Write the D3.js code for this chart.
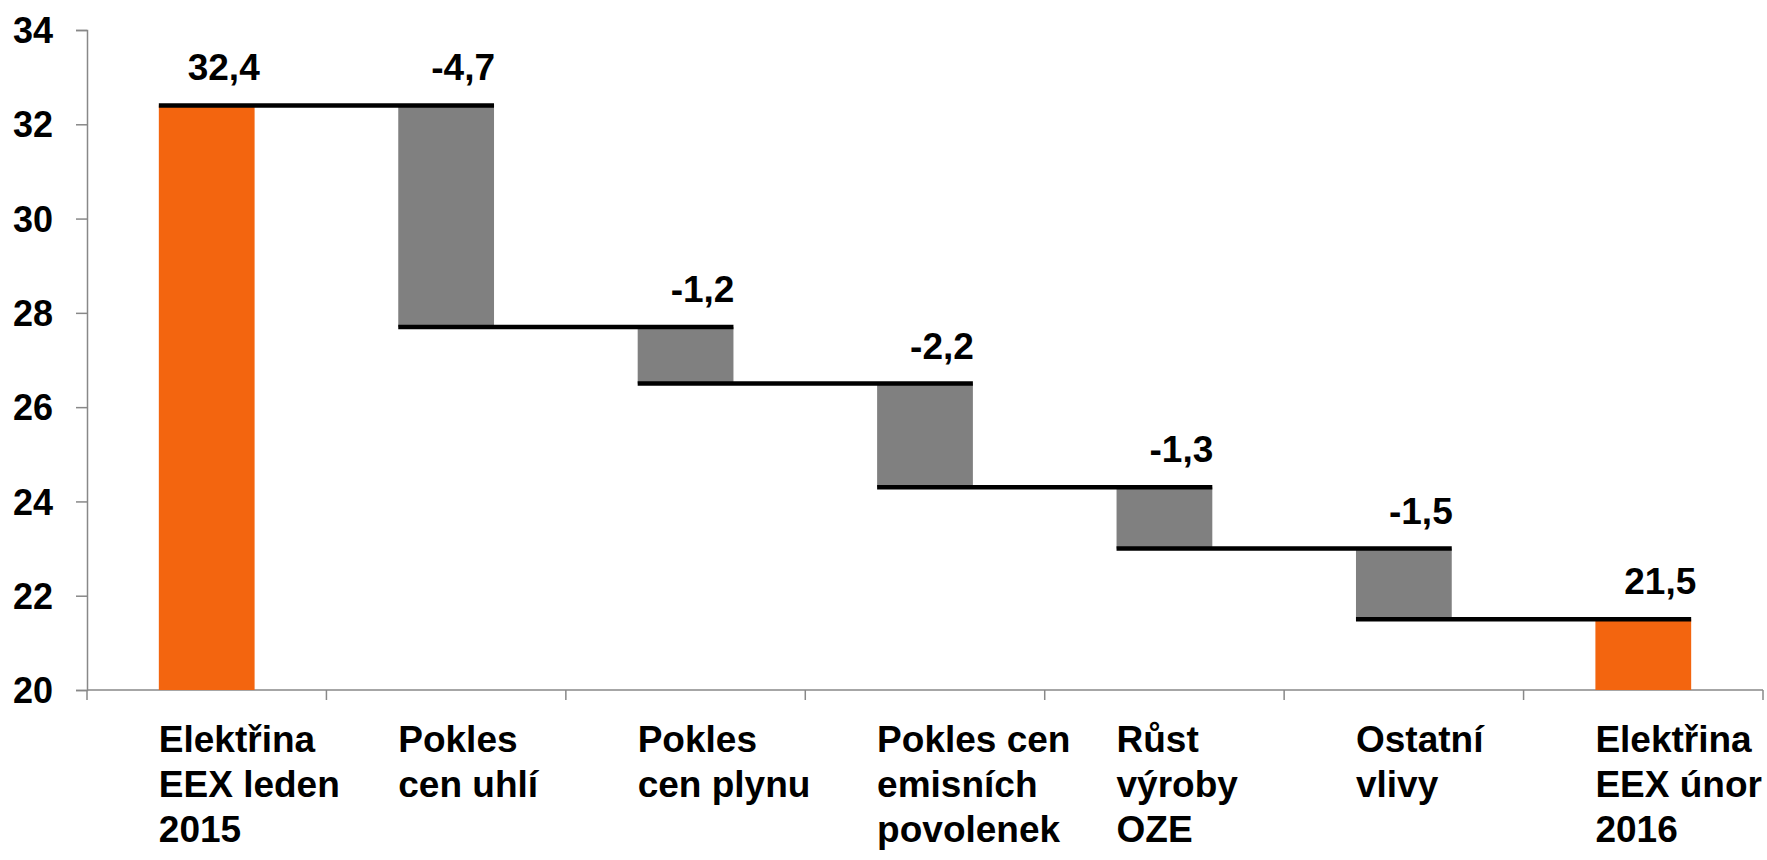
<!DOCTYPE html>
<html>
<head>
<meta charset="utf-8">
<script src="https://cdn.jsdelivr.net/npm/d3@7"></script>
<style>
  html, body { margin: 0; padding: 0; background: #ffffff; }
  svg { display: block; }
  text { font-family: "Liberation Sans", Arial, sans-serif; font-weight: bold; fill: #000; }
</style>
</head>
<body>
<svg id="chart" width="1767" height="860"></svg>
<script>
// ---- data ----
const categories = [
  "Elektřina\nEEX leden\n2015",
  "Pokles\ncen uhlí",
  "Pokles\ncen plynu",
  "Pokles cen\nemisních\npovolenek",
  "Růst\nvýroby\nOZE",
  "Ostatní\nvlivy",
  "Elektřina\nEEX únor\n2016"
];
const values = [32.4, -4.7, -1.2, -2.2, -1.3, -1.5, 21.5];
const isTotal = [true, false, false, false, false, false, true];
const yTicks = [20, 22, 24, 26, 28, 30, 32, 34];
const yDomain = [20, 34];

// ---- layout ----
const W = 1767, H = 860;
const margin = { left: 87, right: 4, top: 30, bottom: 170 };
const x0 = margin.left, x1 = W - margin.right;
const svg = d3.select("#chart");

const x = d3.scaleBand()
  .domain(d3.range(categories.length))
  .range([x0, x1])
  .paddingInner(0.6)
  .paddingOuter(0.3);
const y = d3.scaleLinear().domain(yDomain).range([690, 30]);

const locale = d3.formatLocale({ decimal: ",", thousands: " ", grouping: [3], currency: ["", ""], minus: "-" });
const fmt = locale.format(".1f");

// running totals
let run = 0;
const bars = values.map((v, i) => {
  let lo, hi, top, end;
  if (isTotal[i]) {
    lo = yDomain[0]; hi = v; top = v; end = v; run = v;
  } else {
    const s = run; const e = run + v;
    lo = Math.min(s, e); hi = Math.max(s, e); top = s; end = e; run = e;
  }
  return { i, v, lo, hi, top, end, total: isTotal[i] };
});

const axisColor = "#888888";

// y axis
const yAxis = d3.axisLeft(y).tickValues(yTicks).tickSize(11).tickFormat(d3.format("d"));
const gy = svg.append("g").attr("transform", `translate(${x0},0)`).call(yAxis);
gy.select(".domain").attr("stroke", axisColor).attr("stroke-width", 1.5);
gy.selectAll(".tick line").attr("stroke", axisColor).attr("stroke-width", 1.5);
gy.selectAll(".tick text")
  .attr("x", -34)
  .attr("dy", "0.35em")
  .style("font-size", "36px")
  .style("font-family", "'Liberation Sans', Arial, sans-serif")
  .style("font-weight", "bold")
  .attr("fill", "#000");

// x axis: line + ticks at band boundaries
const step = x.step();
const boundaries = d3.range(categories.length + 1).map(k => x0 + k * (x1 - x0) / categories.length);
svg.append("line")
  .attr("x1", x0).attr("x2", x1)
  .attr("y1", y(yDomain[0])).attr("y2", y(yDomain[0]))
  .attr("stroke", axisColor).attr("stroke-width", 1.5);
svg.selectAll(".xtick").data(boundaries).enter().append("line")
  .attr("class", "xtick")
  .attr("x1", d => d).attr("x2", d => d)
  .attr("y1", y(yDomain[0])).attr("y2", y(yDomain[0]) + 10)
  .attr("stroke", axisColor).attr("stroke-width", 1.5);

// bars
svg.selectAll(".bar").data(bars).enter().append("rect")
  .attr("class", "bar")
  .attr("x", d => x(d.i))
  .attr("width", x.bandwidth())
  .attr("y", d => y(d.hi))
  .attr("height", d => y(d.lo) - y(d.hi))
  .attr("fill", d => d.total ? "#F3650F" : "#808080");

// connector lines: at end level of bar i, from left of bar i to right of bar i+1
const connectors = bars.slice(0, -1).map(d => ({ i: d.i, level: d.end }));
svg.selectAll(".conn").data(connectors).enter().append("line")
  .attr("class", "conn")
  .attr("x1", d => x(d.i))
  .attr("x2", d => x(d.i + 1) + x.bandwidth())
  .attr("y1", d => y(d.level))
  .attr("y2", d => y(d.level))
  .attr("stroke", "#000")
  .attr("stroke-width", 4.5);

// value labels
svg.selectAll(".vlabel").data(bars).enter().append("text")
  .attr("class", "vlabel")
  .attr("x", d => x(d.i) + x.bandwidth() / 2 + 17)
  .attr("y", d => y(d.total ? d.v : d.top) - 25)
  .attr("text-anchor", "middle")
  .style("font-size", "37px")
  .text(d => fmt(d.v));

// category labels
const cl = svg.selectAll(".clabel").data(categories).enter().append("text")
  .attr("class", "clabel")
  .attr("transform", (d, i) => `translate(${x0 + i * step + step * 0.3},752)`)
  .style("font-size", "37px");
cl.each(function(d) {
  const t = d3.select(this);
  d.split("\n").forEach((line, k) => {
    t.append("tspan").attr("x", 0).attr("y", k * 45).text(line);
  });
});
</script>
</body>
</html>
